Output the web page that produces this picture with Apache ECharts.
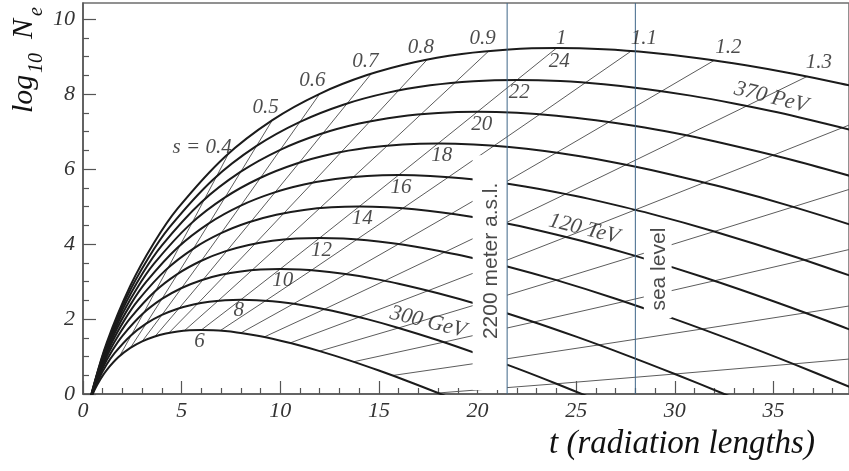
<!DOCTYPE html>
<html>
<head>
<meta charset="utf-8">
<script src="https://cdn.jsdelivr.net/npm/echarts@6/dist/echarts.min.js"></script>
<style>
  html, body { margin: 0; padding: 0; background: #fff; }
  #chart { width: 849px; height: 471px; }
</style>
</head>
<body>
<div id="chart"></div>
<script>
// Shower size log10(Ne) versus depth t (radiation lengths), one curve per beta = ln(E0/Ec).
const curveB6 = [[0.06,-0.707],[0.12,-0.571],[0.3,-0.256],[0.6,0.124],[0.9,0.410],[1.2,0.639],[1.8,0.984],[2.4,1.228],[3.0,1.404],[3.6,1.528],[4.2,1.614],[4.8,1.669],[5.4,1.699],[6.0,1.708],[6.6,1.700],[7.2,1.677],[7.8,1.641],[8.4,1.594],[9.0,1.538],[9.6,1.472],[10.8,1.320],[12,1.144],[13.5,0.897],[15,0.625],[16.5,0.334],[18,0.027],[19.5,-0.293]];
const curveB8 = [[0.08,-0.706],[0.16,-0.524],[0.4,-0.105],[0.8,0.401],[1.2,0.784],[1.6,1.089],[2.4,1.549],[3.2,1.875],[4,2.108],[4.8,2.274],[5.6,2.389],[6.4,2.462],[7.2,2.502],[8,2.514],[8.8,2.503],[9.6,2.473],[10.4,2.425],[11.2,2.362],[12,2.287],[12.8,2.200],[14.4,1.997],[16,1.762],[18,1.433],[20,1.070],[22,0.682],[24,0.273],[26,-0.153]];
const curveB10 = [[0.1,-0.691],[0.2,-0.464],[0.5,0.060],[1,0.693],[1.5,1.171],[2,1.553],[3,2.128],[4,2.535],[5,2.827],[6,3.035],[7,3.178],[8,3.269],[9,3.319],[10,3.334],[11,3.321],[12,3.282],[13,3.222],[14,3.144],[15,3.050],[16,2.942],[18,2.688],[20,2.395],[22.5,1.982],[25,1.529],[27.5,1.044],[30,0.533],[32.5,0.000],[35,-0.552]];
const curveB12 = [[0.12,-0.667],[0.24,-0.394],[0.6,0.234],[1.2,0.994],[1.8,1.567],[2.4,2.025],[3.6,2.716],[4.8,3.204],[6,3.554],[7.2,3.804],[8.4,3.975],[9.6,4.085],[10.8,4.145],[12,4.163],[13.2,4.147],[14.4,4.101],[15.6,4.029],[16.8,3.935],[18,3.822],[19.2,3.692],[21.6,3.388],[24,3.036],[27,2.541],[30,1.997],[33,1.415],[36,0.802],[39,0.162]];
const curveB14 = [[0.14,-0.637],[0.28,-0.319],[0.7,0.415],[1.4,1.301],[2.1,1.970],[2.8,2.504],[4.2,3.310],[5.6,3.879],[7,4.288],[8.4,4.579],[9.8,4.779],[11.2,4.907],[12.6,4.977],[14,4.998],[15.4,4.979],[16.8,4.925],[18.2,4.842],[19.6,4.732],[21,4.600],[22.4,4.449],[25.2,4.094],[28,3.683],[31.5,3.105],[35,2.472],[38.5,1.793],[42,1.077]];
const curveB16 = [[0.16,-0.603],[0.32,-0.239],[0.8,0.600],[1.6,1.612],[2.4,2.377],[3.2,2.988],[4.8,3.908],[6.4,4.559],[8,5.026],[9.6,5.358],[11.2,5.587],[12.8,5.734],[14.4,5.814],[16,5.838],[17.6,5.816],[19.2,5.755],[20.8,5.659],[22.4,5.534],[24,5.383],[25.6,5.210],[28.8,4.804],[32,4.334],[36,3.675],[40,2.950]];
const curveB18 = [[0.18,-0.565],[0.36,-0.155],[0.9,0.788],[1.8,1.927],[2.7,2.787],[3.6,3.474],[5.4,4.510],[7.2,5.242],[9,5.767],[10.8,6.141],[12.6,6.399],[14.4,6.564],[16.2,6.654],[18,6.681],[19.8,6.656],[21.6,6.587],[23.4,6.480],[25.2,6.339],[27,6.169],[28.8,5.974],[32.4,5.518],[36,4.990],[40.5,4.247]];
const curveB20 = [[0.2,-0.524],[0.4,-0.069],[1,0.979],[2,2.245],[3,3.200],[4,3.964],[6,5.114],[8,5.928],[10,6.512],[12,6.927],[14,7.213],[16,7.396],[18,7.496],[20,7.527],[22,7.499],[24,7.423],[26,7.303],[28,7.147],[30,6.958],[32,6.741],[36,6.235],[40,5.647]];
const curveB22 = [[0.22,-0.482],[0.44,0.019],[1.1,1.172],[2.2,2.565],[3.3,3.616],[4.4,4.455],[6.6,5.721],[8.8,6.616],[11,7.258],[13.2,7.715],[15.4,8.030],[17.6,8.231],[19.8,8.341],[22,8.375],[24.2,8.345],[26.4,8.260],[28.6,8.129],[30.8,7.957],[33,7.749],[35.2,7.511],[39.6,6.953]];
const curveB24 = [[0.24,-0.437],[0.48,0.109],[1.2,1.367],[2.4,2.886],[3.6,4.033],[4.8,4.949],[7.2,6.329],[9.6,7.305],[12,8.006],[14.4,8.505],[16.8,8.848],[19.2,9.068],[21.6,9.188],[24,9.224],[26.4,9.191],[28.8,9.099],[31.2,8.956],[33.6,8.768],[36,8.542],[38.4,8.282],[40.8,7.991]];

// Lines of constant age parameter s, joining the same s on each curve.
const sLine04 = [[1.85,1.006],[2.46,1.578],[3.08,2.164],[3.69,2.759],[4.31,3.360],[4.92,3.966],[5.54,4.575],[6.15,5.187],[6.77,5.801],[7.38,6.416]];
const sLine05 = [[2.4,1.228],[3.2,1.875],[4,2.535],[4.8,3.204],[5.6,3.879],[6.4,4.559],[7.2,5.242],[8,5.928],[8.8,6.616],[9.6,7.305]];
const sLine06 = [[3,1.404],[4,2.108],[5,2.827],[6,3.554],[7,4.288],[8,5.026],[9,5.767],[10,6.512],[11,7.258],[12,8.006]];
const sLine07 = [[3.65,1.537],[4.87,2.286],[6.09,3.049],[7.30,3.821],[8.52,4.599],[9.74,5.382],[10.96,6.168],[12.17,6.957],[13.39,7.748],[14.61,8.540]];
const sLine08 = [[4.36,1.632],[5.82,2.413],[7.27,3.207],[8.73,4.011],[10.18,4.820],[11.64,5.634],[13.09,6.452],[14.55,7.272],[16,8.095],[17.45,8.919]];
const sLine09 = [[5.14,1.689],[6.86,2.489],[8.57,3.302],[10.29,4.125],[12,4.954],[13.71,5.787],[15.43,6.623],[17.14,7.463],[18.86,8.304],[20.57,9.147]];
const sLine10 = [[6,1.708],[8,2.514],[10,3.334],[12,4.163],[14,4.998],[16,5.838],[18,6.681],[20,7.527],[22,8.375],[24,9.224]];
const sLine11 = [[6.95,1.688],[9.26,2.488],[11.58,3.301],[13.89,4.124],[16.21,4.952],[18.53,5.785],[20.84,6.621],[23.16,7.460],[25.47,8.302],[27.79,9.145]];
const sLine12 = [[8,1.627],[10.67,2.406],[13.33,3.198],[16,4.000],[18.67,4.808],[21.33,5.621],[24,6.436],[26.67,7.255],[29.33,8.076],[32,8.898]];
const sLine13 = [[9.18,1.519],[12.24,2.262],[15.29,3.020],[18.35,3.786],[21.41,4.558],[24.47,5.334],[27.53,6.115],[30.59,6.897],[33.65,7.682],[36.71,8.469]];
const sLine14 = [[10.5,1.361],[14,2.051],[17.5,2.756],[21,3.469],[24.5,4.188],[28,4.912],[31.5,5.640],[35,6.370],[38.5,7.102],[42,7.836]];
const sLine15 = [[12,1.144],[16,1.762],[20,2.395],[24,3.036],[28,3.683],[32,4.334],[36,4.990],[40,5.647]];
const sLine16 = [[13.71,0.859],[18.29,1.383],[22.86,1.920],[27.43,2.466],[32,3.018],[36.57,3.575],[41.14,4.135]];
const sLine17 = [[15.69,0.493],[20.92,0.894],[26.15,1.309],[31.38,1.733],[36.62,2.163],[41.85,2.598]];
const sLine18 = [[18,0.027],[24,0.273],[30,0.533],[36,0.802],[42,1.077]];

// Curve and s labels, anchored in data coordinates.
const betaLabels = ['6','8','10','12','14','16','18','20','22','24'];
const betaLabelAt = [[5.90,1.41],[7.90,2.24],[10.12,3.04],[12.09,3.84],[14.15,4.67],[16.12,5.52],[18.19,6.37],[20.21,7.20],[22.12,8.05],[24.14,8.88]];
const sLabels = ['s = 0.4','0.5','0.6','0.7','0.8','0.9','1','1.1','1.2','1.3'];
const sLabelAt = [[6.04,6.57],[9.26,7.65],[11.63,8.35],[14.31,8.88],[17.13,9.25],[20.26,9.47],[24.24,9.49],[28.43,9.49],[32.71,9.23],[37.30,8.83]];
const energyLabels = ['300 GeV','120 TeV','370 PeV'];
const energyLabelAt = [[17.49,1.92],[25.40,4.40],[34.88,7.91]];

// Observation depths and their captions.
const depthLines = [21.5, 28.0];
const depthNames = ['2200 meter a.s.l.', 'sea level'];
const depthLabelAt = [[20.71,3.55],[29.23,3.33]];
const depthMasks = [[19.75,6.37,21.5,0.11],[28.43,4.43,29.84,2.03]];

// Axis ticks.
const xMajor = [0,5,10,15,20,25,30,35];
const xMinor = [1,2,3,4,6,7,8,9,11,12,13,14,16,17,18,19,21,22,23,24,26,27,28,29,31,32,33,34,36,37,38];
const yMajor = [0,2,4,6,8,10];
const yMinor = [0.5,1,1.5,2.5,3,3.5,4.5,5,5.5,6.5,7,7.5,8.5,9,9.5];
const X_MAX = 38.83;
const Y_MAX = 10.427;

const SERIF = '"Liberation Serif", "Times New Roman", serif';
const SANS = '"Liberation Sans", Arial, sans-serif';
const AXIS_GREY = '#555';

const showerCurves = [curveB6, curveB8, curveB10, curveB12, curveB14, curveB16, curveB18, curveB20, curveB22, curveB24];
const sLines = [sLine04, sLine05, sLine06, sLine07, sLine08, sLine09, sLine10, sLine11, sLine12, sLine13, sLine14, sLine15, sLine16, sLine17, sLine18];

const chart = echarts.init(document.getElementById('chart'), null, { renderer: 'canvas' });

function xAxisOf(ticks, len, withLabels) {
  return {
    type: 'value', min: 0, max: X_MAX, position: 'bottom', offset: 0,
    axisLine: { show: withLabels, onZero: false, lineStyle: { color: AXIS_GREY, width: 1.5 } },
    axisTick: { show: true, inside: true, length: len, customValues: ticks, lineStyle: { color: AXIS_GREY, width: 1.2 } },
    axisLabel: withLabels ? { show: true, customValues: ticks, margin: 6, fontFamily: SERIF, fontStyle: 'italic', fontSize: 22, color: '#333' } : { show: false },
    splitLine: { show: false }
  };
}
function yAxisOf(ticks, len, withLabels) {
  return {
    type: 'value', min: 0, max: Y_MAX, position: 'left', offset: 0,
    axisLine: { show: withLabels, onZero: false, lineStyle: { color: AXIS_GREY, width: 1.5 } },
    axisTick: { show: true, inside: true, length: len, customValues: ticks, lineStyle: { color: AXIS_GREY, width: 1.2 } },
    axisLabel: withLabels ? { show: true, customValues: ticks, margin: 8, fontFamily: SERIF, fontStyle: 'italic', fontSize: 22, color: '#333' } : { show: false },
    splitLine: { show: false }
  };
}

function labelSeries(names, anchors, labelStyle, z) {
  return {
    type: 'scatter', z: z, silent: true, symbolSize: 1,
    itemStyle: { color: 'rgba(0,0,0,0)' },
    data: names.map((n, i) => ({ name: n, value: anchors[i], label: labelStyle(i) })),
    label: { show: true, position: 'inside', formatter: '{b}', color: '#1e1e1e' }
  };
}

const series = [];
sLines.forEach(d => series.push({
  type: 'line', data: d, showSymbol: false, silent: true, z: 2,
  lineStyle: { color: '#5c5c5c', width: 1 }
}));
showerCurves.forEach(d => series.push({
  type: 'line', data: d, showSymbol: false, silent: true, smooth: 0.35, z: 3,
  lineStyle: { color: '#1b1b1b', width: 2 }
}));
// White panels behind the depth captions.
series.push({
  type: 'custom', z: 4, silent: true, data: depthMasks, encode: { x: [0, 2], y: [1, 3] },
  renderItem: (params, api) => {
    const p0 = api.coord([api.value(0), api.value(1)]);
    const p1 = api.coord([api.value(2), api.value(3)]);
    return { type: 'rect', shape: { x: p0[0], y: p0[1], width: p1[0] - p0[0], height: p1[1] - p0[1] }, style: { fill: '#fff' } };
  }
});
depthLines.forEach(t => series.push({
  type: 'line', data: [[t, 0], [t, Y_MAX]], showSymbol: false, silent: true, z: 5,
  lineStyle: { color: '#3f6688', width: 1 }
}));
series.push(labelSeries(betaLabels, betaLabelAt, () => ({ fontFamily: SERIF, fontStyle: 'italic', fontSize: 21 }), 6));
series.push(labelSeries(sLabels, sLabelAt, () => ({ fontFamily: SERIF, fontStyle: 'italic', fontSize: 21 }), 6));
series.push(labelSeries(energyLabels, energyLabelAt, () => ({ fontFamily: SERIF, fontStyle: 'italic', fontSize: 22, rotate: -14 }), 6));
series.push(labelSeries(depthNames, depthLabelAt, () => ({ fontFamily: SANS, fontSize: 21, rotate: 90, color: '#1a1a1a' }), 6));

const titleFont = (size) => 'italic ' + size + 'px ' + SERIF;

chart.setOption({
  animation: false,
  backgroundColor: '#fff',
  grid: { left: 83, top: 3, width: 770, height: 391, show: true, borderColor: '#6e6e6e', borderWidth: 1.5, backgroundColor: 'transparent' },
  xAxis: [xAxisOf(xMajor, 13, true), xAxisOf(xMinor, 6, false)],
  yAxis: [yAxisOf(yMajor, 13, true), yAxisOf(yMinor, 6, false)],
  series: series,
  graphic: [
    {
      type: 'group', x: 34, y: 113, rotation: Math.PI / 2,
      children: [
        { type: 'text', x: 0, y: -10, style: { text: 'log', font: titleFont(30), fill: '#111', align: 'left', verticalAlign: 'middle' } },
        { type: 'text', x: 40, y: 3, style: { text: '10', font: titleFont(20), fill: '#111', align: 'left', verticalAlign: 'middle' } },
        { type: 'text', x: 74, y: -10, style: { text: 'N', font: titleFont(30), fill: '#111', align: 'left', verticalAlign: 'middle' } },
        { type: 'text', x: 97, y: 3, style: { text: 'e', font: titleFont(20), fill: '#111', align: 'left', verticalAlign: 'middle' } }
      ]
    },
    { type: 'text', x: 682, y: 444, style: { text: 't (radiation lengths)', font: titleFont(33), fill: '#111', align: 'center', verticalAlign: 'middle' } }
  ]
});
</script>
</body>
</html>
